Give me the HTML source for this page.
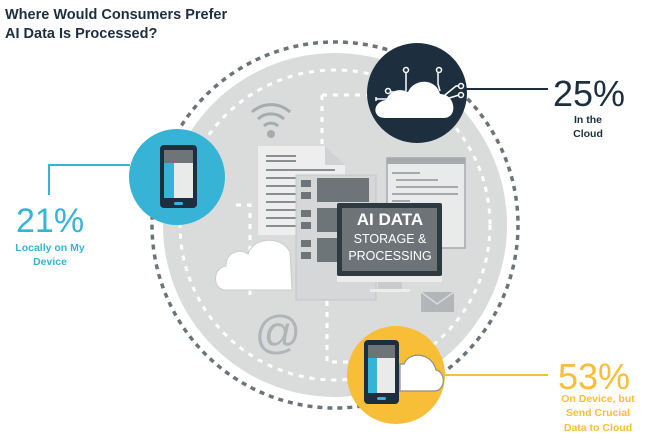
<!DOCTYPE html>
<html><head><meta charset="utf-8"><style>
html,body{margin:0;padding:0;background:#fff;width:660px;height:444px;overflow:hidden}
svg{display:block}
text{font-family:"Liberation Sans",sans-serif}
</style></head><body>
<svg width="660" height="444" viewBox="0 0 660 444" xmlns="http://www.w3.org/2000/svg">
<text x="5" y="19" font-size="14.5" font-weight="bold" fill="#1d2e3f">Where Would Consumers Prefer</text>
<text x="5" y="38" font-size="14.5" font-weight="bold" fill="#1d2e3f">AI Data Is Processed?</text>

<circle cx="335" cy="225" r="183" fill="none" stroke="#6d7478" stroke-width="3.5" stroke-dasharray="5 5"/>
<circle cx="335" cy="225" r="172" fill="#dadcdc"/>
<circle cx="335" cy="225" r="155" fill="none" stroke="#fff" stroke-width="3" stroke-dasharray="5 6"/>
<g stroke="#fff" stroke-width="3" stroke-dasharray="5 6" fill="none">
<path d="M322 95 H370"/>
<path d="M322 95 V150"/>
<path d="M327 290 V362 H352"/>
<path d="M236 205 H250 V300"/>
</g>

<!-- wifi -->
<g fill="none" stroke="#a7abad" stroke-width="3">
<path d="M252 112 A28 28 0 0 1 290 112"/>
<path d="M258 119 A19 19 0 0 1 284 119"/>
<path d="M264 126 A10 10 0 0 1 278 126"/>
</g>
<circle cx="271" cy="134" r="4" fill="#a7abad"/>

<!-- document -->
<path d="M258 146 H325 L345 165 V235 H258 Z" fill="#eeeeee"/>
<path d="M325 146 V165 H345 Z" fill="#d0d2d3"/>
<g stroke="#8a8f92" stroke-width="2">
<path d="M266 156 H296 M266 161 H296 M266 170 H335 M266 178 H335 M266 186 H335 M266 194 H335 M266 202 H335 M266 210 H335 M266 218 H335 M266 226 H335"/>
</g>
<!-- browser window -->
<rect x="387" y="158" width="78" height="90" fill="#e9eaea" stroke="#a6aaad" stroke-width="1.5"/>
<rect x="387" y="158" width="78" height="6" fill="#a6aaad"/>
<g stroke="#a6aaad" stroke-width="2"><path d="M392 173 H420 M396 180 H438 M396 187 H458 M392 194 H458 M392 201 H410"/></g>
<!-- building -->
<rect x="296" y="175" width="80" height="125" fill="#d5d7d8"/>
<rect x="296" y="175" width="80" height="125" fill="none" stroke="#c4c6c7"/>
<g fill="#6e7579">
<rect x="301" y="180" width="10" height="7"/><rect x="301" y="192" width="10" height="7"/>
<rect x="317" y="178" width="52" height="24"/>
<rect x="301" y="210" width="10" height="7"/><rect x="301" y="222" width="10" height="7"/>
<rect x="317" y="208" width="52" height="24"/>
<rect x="301" y="240" width="10" height="7"/><rect x="301" y="252" width="10" height="7"/>
<rect x="317" y="238" width="52" height="24"/>
</g>
<!-- cloud -->
<path d="M226 290 C212 290 212 268 226 266 C226 252 240 248 248 254 C254 236 282 236 290 252 L292 290 Z" fill="#fff" stroke="#c9cbcc" stroke-width="1"/>
<!-- monitor -->
<rect x="337" y="203" width="105" height="73" rx="2" fill="#2f3a40"/>
<rect x="342" y="208" width="95" height="63" fill="#6d7376"/>
<rect x="337" y="276" width="105" height="6" fill="#ececec"/>
<rect x="378" y="282" width="24" height="7" fill="#c9cbcc"/>
<rect x="370" y="289" width="40" height="3" fill="#ececec"/>
<text x="390" y="225" font-size="17" font-weight="bold" fill="#fff" text-anchor="middle">AI DATA</text>
<text x="390" y="243" font-size="12.5" fill="#fff" text-anchor="middle">STORAGE &amp;</text>
<text x="390" y="260" font-size="12.5" fill="#fff" text-anchor="middle">PROCESSING</text>
<!-- envelope -->
<rect x="421" y="292" width="33" height="20" fill="#b3b6b8"/>
<path d="M421 292 L437 304 L454 292" fill="none" stroke="#dadcdc" stroke-width="1.5"/>
<!-- @ -->
<text x="278" y="348" font-size="46" fill="#b2b5b7" text-anchor="middle">@</text>

<!-- blue -->
<path d="M130 165 H49 V195" fill="none" stroke="#36b3d5" stroke-width="2"/>
<circle cx="177" cy="177" r="48" fill="#36b3d5"/>
<rect x="160" y="145" width="37" height="63" rx="4" fill="#1d2e3f"/>
<rect x="164" y="150" width="29" height="13" fill="#6e7579"/>
<rect x="164" y="163" width="10" height="35" fill="#36b3d5"/>
<rect x="174" y="163" width="19" height="35" fill="#e9eaea"/>
<rect x="174" y="202" width="9" height="3" rx="1.5" fill="#36b3d5"/>
<text x="16" y="232" font-size="34" fill="#36b3d5">21%</text>
<text x="50" y="251" font-size="10.5" font-weight="bold" fill="#36b3d5" text-anchor="middle">Locally on My</text>
<text x="50" y="265" font-size="10.5" font-weight="bold" fill="#36b3d5" text-anchor="middle">Device</text>

<!-- navy -->
<path d="M466 89 H548" stroke="#1d2e3f" stroke-width="2"/>
<circle cx="417" cy="93" r="50" fill="#1d2e3f"/>
<path d="M385 118 C372 118 372 102 386 100 C390 90 400 88 408 92 C414 78 436 78 440 94 C456 94 458 118 444 118 Z" fill="#fff"/>
<g stroke="#fff" stroke-width="1.5" fill="none">
<path d="M406 91 V72 M440 91 L438 84 V72 M395 92 L390 92 M445 95 L456 86 L459 86 M446 99 L459 95 M376 97 V101 M376 99 H388"/>
<circle cx="406" cy="70" r="2.5"/><circle cx="439" cy="70" r="2.5"/><circle cx="388" cy="91" r="2.5"/><circle cx="461" cy="86" r="2.5"/><circle cx="461" cy="95" r="2.5"/>
</g>
<text x="553" y="106" font-size="36" fill="#1d2e3f">25%</text>
<text x="588" y="123" font-size="10.5" font-weight="bold" fill="#1d2e3f" text-anchor="middle">In the</text>
<text x="588" y="137" font-size="10.5" font-weight="bold" fill="#1d2e3f" text-anchor="middle">Cloud</text>

<!-- yellow -->
<path d="M444 375 H548" stroke="#f8be38" stroke-width="2"/>
<circle cx="396" cy="375" r="49" fill="#f8be38"/>
<path d="M400 391 H434 C446 391 446 372 436 370 C432 353 410 350 404 364 L400 364 Z" fill="#fff" stroke="#8a8f92" stroke-width="1.2"/>
<rect x="364" y="340" width="35" height="64" rx="4" fill="#1d2e3f"/>
<rect x="368" y="345" width="27" height="13" fill="#6e7579"/>
<rect x="368" y="358" width="9" height="35" fill="#36b3d5"/>
<rect x="377" y="358" width="18" height="35" fill="#e9eaea"/>
<rect x="377" y="397" width="9" height="3" rx="1.5" fill="#36b3d5"/>
<text x="558" y="389" font-size="36" fill="#f8be38">53%</text>
<text x="598" y="402" font-size="10.5" font-weight="bold" fill="#f8be38" text-anchor="middle">On Device, but</text>
<text x="598" y="416" font-size="10.5" font-weight="bold" fill="#f8be38" text-anchor="middle">Send Crucial</text>
<text x="598" y="431" font-size="10.5" font-weight="bold" fill="#f8be38" text-anchor="middle">Data to Cloud</text>
</svg>
</body></html>
